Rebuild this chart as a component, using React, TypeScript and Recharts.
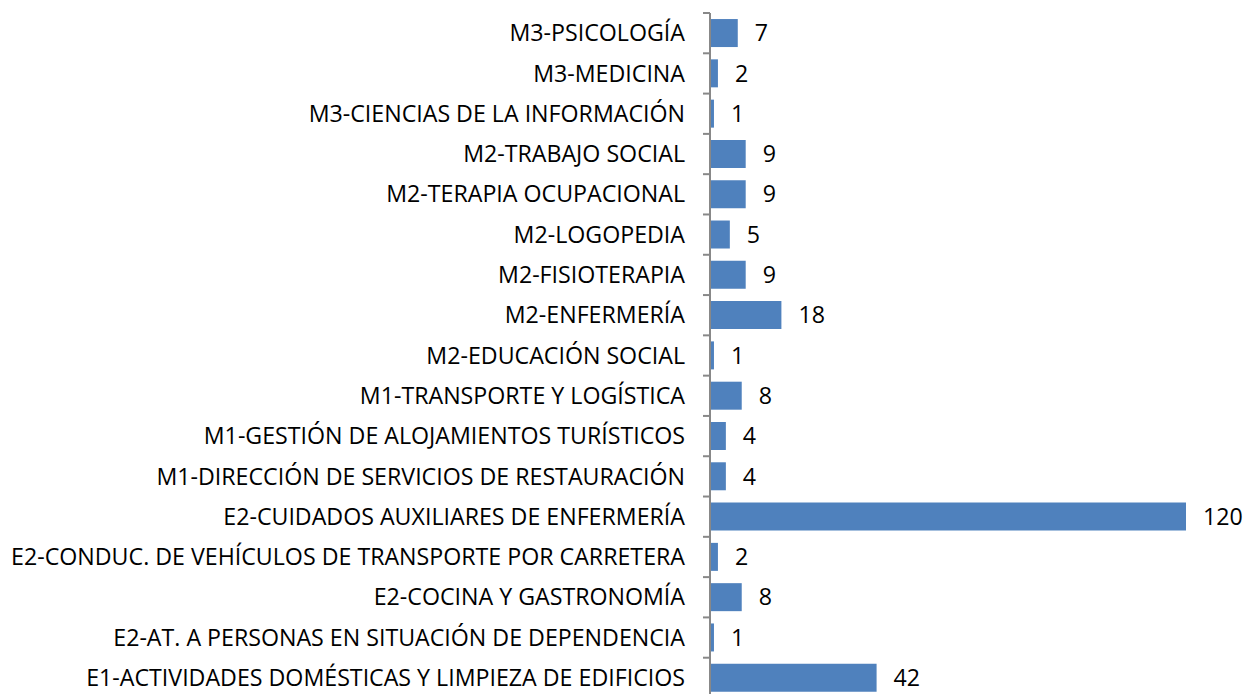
import { Bar, BarChart, LabelList, XAxis, YAxis } from 'recharts';

const categories = [
  'M3-PSICOLOGÍA',
  'M3-MEDICINA',
  'M3-CIENCIAS DE LA INFORMACIÓN',
  'M2-TRABAJO SOCIAL',
  'M2-TERAPIA OCUPACIONAL',
  'M2-LOGOPEDIA',
  'M2-FISIOTERAPIA',
  'M2-ENFERMERÍA',
  'M2-EDUCACIÓN SOCIAL',
  'M1-TRANSPORTE Y LOGÍSTICA',
  'M1-GESTIÓN DE ALOJAMIENTOS TURÍSTICOS',
  'M1-DIRECCIÓN DE SERVICIOS DE RESTAURACIÓN',
  'E2-CUIDADOS AUXILIARES DE ENFERMERÍA',
  'E2-CONDUC. DE VEHÍCULOS DE TRANSPORTE POR CARRETERA',
  'E2-COCINA Y GASTRONOMÍA',
  'E2-AT. A PERSONAS EN SITUACIÓN DE DEPENDENCIA',
  'E1-ACTIVIDADES DOMÉSTICAS Y LIMPIEZA DE EDIFICIOS',
];

const values = [7, 2, 1, 9, 9, 5, 9, 18, 1, 8, 4, 4, 120, 2, 8, 1, 42];

const data = categories.map((name, i) => ({ name, value: values[i] }));

const FONT = '"Open Sans", sans-serif';
const FONT_SIZE = 23.2;
const PLOT_HEIGHT = 685;
const BAND = PLOT_HEIGHT / categories.length;
const TICK_GAP = 25;

function CategoryTick(props: any) {
  const { x, y, payload } = props;
  return (
    <g>
      <line
        x1={x + TICK_GAP - 7}
        x2={x + TICK_GAP}
        y1={y - BAND / 2}
        y2={y - BAND / 2}
        stroke="#888"
        strokeWidth={2}
      />
      <text
        x={x}
        y={y}
        dy="0.35em"
        textAnchor="end"
        fontFamily={FONT}
        fontSize={FONT_SIZE}
        fill="#000"
      >
        {payload.value}
      </text>
    </g>
  );
}

export default function App() {
  return (
    <BarChart
      width={1243}
      height={690}
      data={data}
      layout="vertical"
      margin={{ top: 5, right: 65, bottom: 0, left: 0 }}
      barCategoryGap="15%"
    >
      <XAxis type="number" domain={[0, 120]} hide />
      <YAxis
        type="category"
        dataKey="name"
        width={702}
        interval={0}
        tickLine={false}
        tickSize={0}
        tickMargin={TICK_GAP}
        axisLine={{ stroke: '#888', strokeWidth: 2 }}
        tick={<CategoryTick />}
      />
      <Bar dataKey="value" fill="#4F81BD" isAnimationActive={false}>
        <LabelList
          dataKey="value"
          position="right"
          offset={17}
          fill="#000"
          fontFamily={FONT}
          fontSize={FONT_SIZE}
        />
      </Bar>
    </BarChart>
  );
}
